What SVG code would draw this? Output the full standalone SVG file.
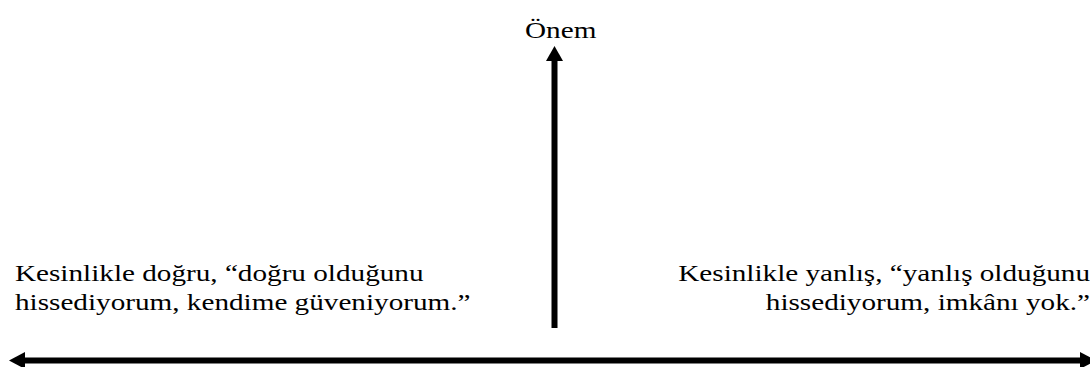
<svg xmlns="http://www.w3.org/2000/svg" width="1090" height="367" viewBox="0 0 1090 367">
<style>
text{font-family:"Liberation Serif","Times New Roman",serif;font-size:23px;fill:#000}
.ln{stroke:#000;fill:none}
.wide{transform:matrix(1.27,0,0,1,0,0)}
</style>
<rect width="1090" height="367" fill="#fff"/>
<g id="connectors">
<line class="ln" x1="554.5" y1="58" x2="554.5" y2="328" stroke-width="6"/>
<polygon points="554.5,46 546,61 563,61" fill="#000"/>
<line class="ln" x1="22" y1="360.5" x2="1080" y2="360.5" stroke-width="6"/>
<polygon points="9,360.5 25,352 25,369" fill="#000"/>
<polygon points="1096,360.5 1080,352 1080,369" fill="#000"/>
</g>
<g id="node-onem" transform="matrix(1.27,0,0,1,0,0)"><text x="413.4" y="38">Önem</text></g>
<g id="node-left" transform="matrix(1.27,0,0,1,0,0)">
<text x="11.8" y="281">Kesinlikle doğru, “doğru olduğunu</text>
<text x="11.8" y="310">hissediyorum, kendime güveniyorum.”</text>
</g>
<g id="node-right" transform="matrix(1.27,0,0,1,0,0)">
<text x="858.3" y="281" text-anchor="end">Kesinlikle yanlış, “yanlış olduğunu</text>
<text x="858.3" y="310" text-anchor="end">hissediyorum, imkânı yok.”</text>
</g>
</svg>
